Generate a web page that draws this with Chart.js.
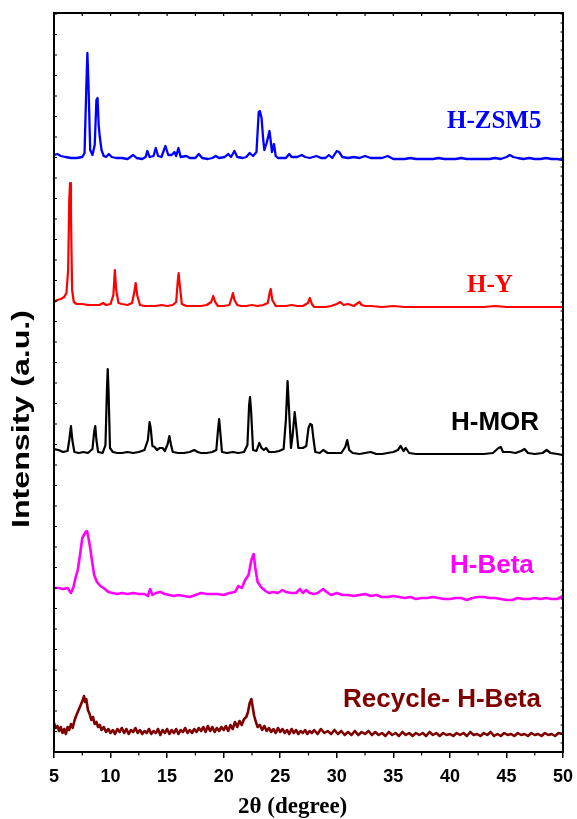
<!DOCTYPE html>
<html><head><meta charset="utf-8">
<script src="https://cdn.jsdelivr.net/npm/chart.js@4.4.1/dist/chart.umd.min.js"></script>
<style>html,body{margin:0;padding:0;background:#fff;}#wrap{width:577px;height:819px;}</style>
</head><body><div id="wrap"><canvas id="c" width="577" height="819"></canvas></div>
<script>
// 2θ tick labels
const xTicks = [5,10,15,20,25,30,35,40,45,50];
const seriesNames = ['H-ZSM5','H-Y','H-MOR','H-Beta','Recycle- H-Beta'];
// [2θ, intensity (a.u., stacked offsets included)]
const hZSM5 = [[5.0,597],[5.3,598],[5.6,596],[6.0,595],[6.5,594],[7.0,594],[7.5,595],[7.7,599],[7.85,662],[7.95,699],[8.05,667],[8.2,602],[8.4,597],[8.6,607],[8.75,652],[8.85,654],[8.95,627],[9.05,615],[9.2,602],[9.4,596],[9.6,595],[9.85,598],[10.1,595],[10.5,594],[11.0,594],[11.5,593],[12.0,597],[12.3,594],[12.8,593],[13.1,595],[13.25,601],[13.45,595],[13.8,596],[14.0,604],[14.2,596],[14.5,595],[14.85,606],[15.1,597],[15.4,597],[15.65,600],[15.8,596],[16.0,604],[16.2,595],[16.7,596],[17.0,594],[17.5,594],[17.8,598],[18.1,594],[18.6,593],[19.0,594],[19.3,596],[19.6,594],[20.1,595],[20.4,598],[20.65,595],[20.95,601],[21.2,595],[21.7,594],[22.0,595],[22.3,599],[22.6,596],[22.9,600],[23.1,640],[23.2,641],[23.35,634],[23.5,612],[23.6,602],[23.8,609],[24.05,621],[24.15,612],[24.27,600],[24.45,608],[24.6,596],[24.8,594],[25.2,594],[25.5,594],[25.8,598],[26.0,595],[26.5,595],[26.9,597],[27.2,595],[27.6,594],[28.2,596],[28.6,594],[29.0,594],[29.3,597],[29.6,594],[30.0,601],[30.2,600],[30.5,595],[31.0,594],[31.5,595],[32.0,594],[32.5,596],[33.0,594],[33.5,594],[34.0,594],[34.5,596],[35.0,593],[35.5,593],[36.0,593],[36.5,594],[37.0,593],[37.5,593],[38.0,593],[38.5,593],[39.0,594],[39.5,593],[40.0,593],[40.5,593],[41.0,594],[41.5,593],[42.0,593],[42.5,593],[43.0,593],[43.5,593],[44.0,594],[44.5,593],[45.0,595],[45.3,597],[45.6,595],[46.0,594],[46.5,593],[47.0,594],[47.5,593],[48.0,593],[48.5,594],[49.0,593],[49.5,593],[50.0,592]];
const hY = [[5.0,450],[5.3,452],[5.6,453],[5.9,455],[6.1,459],[6.25,482],[6.35,552],[6.42,569],[6.5,537],[6.6,462],[6.75,450],[7.0,448],[7.5,448],[8.0,447],[8.5,447],[9.0,447],[9.35,449],[9.6,447],[10.0,448],[10.25,457],[10.38,482],[10.5,462],[10.7,449],[11.0,448],[11.5,447],[11.9,449],[12.1,460],[12.22,469],[12.35,457],[12.6,447],[13.0,446],[13.5,446],[14.0,446],[14.5,447],[15.0,446],[15.5,447],[15.8,450],[15.95,472],[16.02,479],[16.12,467],[16.3,448],[16.7,446],[17.0,446],[17.5,446],[18.0,446],[18.5,447],[18.9,450],[19.08,456],[19.25,450],[19.5,446],[20.0,446],[20.5,447],[20.7,454],[20.82,459],[20.95,452],[21.2,447],[21.5,446],[22.0,446],[22.5,447],[23.0,446],[23.5,447],[23.9,449],[24.08,460],[24.16,463],[24.3,452],[24.6,446],[25.0,446],[25.5,446],[26.0,447],[26.5,446],[27.0,446],[27.45,449],[27.62,454],[27.8,448],[28.0,445],[28.5,445],[29.0,445],[29.5,446],[30.0,448],[30.3,450],[30.6,447],[31.0,448],[31.5,446],[32.0,450],[32.2,447],[32.5,446],[33.0,446],[34.0,445],[35.0,446],[36.0,445],[37.0,445],[38.0,445],[39.0,445],[40.0,445],[41.0,445],[42.0,445],[43.0,445],[44.0,446],[45.0,445],[46.0,445],[47.0,445],[48.0,445],[49.0,445],[50.0,445]];
const hMOR = [[5.0,303],[5.4,302],[5.8,300],[6.2,301],[6.35,312],[6.5,326],[6.62,312],[6.8,300],[7.2,299],[7.6,300],[8.0,299],[8.4,303],[8.55,320],[8.65,326],[8.75,312],[8.9,300],[9.3,299],[9.55,307],[9.68,362],[9.75,383],[9.82,362],[9.95,304],[10.2,300],[10.6,299],[11.0,299],[11.5,300],[12.0,299],[12.5,300],[13.0,302],[13.3,312],[13.45,330],[13.55,324],[13.7,306],[13.9,305],[14.1,302],[14.35,304],[14.6,304],[14.8,301],[15.05,308],[15.2,316],[15.35,307],[15.5,300],[16.0,299],[16.5,299],[17.0,300],[17.4,302],[17.7,300],[18.0,299],[18.5,299],[19.0,300],[19.35,302],[19.5,322],[19.6,333],[19.7,320],[19.85,300],[20.3,299],[20.8,300],[21.3,299],[21.8,300],[22.1,307],[22.25,347],[22.33,355],[22.42,342],[22.6,302],[22.9,301],[23.15,309],[23.35,304],[23.55,302],[23.75,304],[24.0,300],[24.5,300],[24.9,301],[25.3,303],[25.5,332],[25.65,371],[25.78,342],[25.95,304],[26.1,317],[26.28,340],[26.4,327],[26.6,304],[27.0,304],[27.3,306],[27.5,324],[27.65,328],[27.8,327],[27.95,312],[28.1,300],[28.5,299],[28.8,302],[29.2,299],[29.8,299],[30.4,299],[30.75,305],[30.92,312],[31.1,302],[31.4,299],[32.0,298],[32.5,299],[33.0,300],[33.5,298],[34.0,298],[34.5,299],[35.0,300],[35.4,302],[35.65,306],[35.9,301],[36.1,304],[36.4,299],[37.0,298],[38.0,298],[39.0,298],[40.0,298],[41.0,298],[42.0,298],[43.0,298],[43.8,299],[44.3,304],[44.5,305],[44.7,300],[45.3,300],[45.8,299],[46.3,301],[46.6,303],[46.9,299],[47.5,298],[48.2,299],[48.55,302],[48.9,299],[49.5,298],[50.0,297]];
const hBeta = [[5.0,164],[5.4,164],[5.8,163],[6.2,164],[6.5,159],[6.7,164],[6.9,174],[7.1,182],[7.3,197],[7.5,214],[7.65,217],[7.8,220],[7.92,221],[8.05,214],[8.2,204],[8.35,192],[8.55,177],[8.8,170],[9.1,166],[9.5,163],[9.8,160],[10.2,159],[10.6,158],[11.0,159],[11.5,158],[12.0,159],[12.5,158],[13.0,158],[13.3,156],[13.5,163],[13.7,157],[14.0,159],[14.4,160],[14.8,158],[15.2,157],[15.6,156],[16.0,157],[16.5,156],[17.0,155],[17.5,157],[18.0,159],[18.5,158],[19.0,158],[19.5,158],[20.0,157],[20.5,159],[21.0,160],[21.3,166],[21.6,164],[21.9,172],[22.2,177],[22.45,192],[22.65,198],[22.8,184],[23.0,170],[23.3,165],[23.7,161],[24.0,159],[24.4,160],[24.8,159],[25.2,162],[25.5,160],[26.0,159],[26.4,159],[26.75,163],[27.0,159],[27.3,162],[27.6,159],[28.0,158],[28.3,159],[28.8,163],[29.1,160],[29.5,157],[30.0,159],[30.5,157],[31.0,157],[31.5,156],[32.0,157],[32.5,158],[33.0,156],[33.5,157],[34.0,155],[34.5,155],[35.0,156],[35.5,155],[36.0,154],[36.5,155],[37.0,153],[37.5,154],[38.0,154],[38.5,155],[39.0,154],[39.5,153],[40.0,153],[40.5,154],[41.0,154],[41.5,152],[42.0,154],[42.5,155],[43.0,155],[43.5,154],[44.0,154],[44.5,153],[45.0,152],[45.5,152],[46.0,154],[46.5,153],[47.0,153],[47.5,154],[48.0,153],[48.5,154],[49.0,153],[49.5,153],[50.0,156]];
const recycleHBeta = [[5.0,29],[5.15,24],[5.3,26],[5.45,21],[5.6,25],[5.75,19],[5.9,23],[6.05,18],[6.2,25],[6.35,22],[6.5,28],[6.65,24],[6.8,31],[6.95,36],[7.1,40],[7.25,44],[7.4,48],[7.55,52],[7.65,56],[7.75,50],[7.85,53],[8.0,42],[8.15,38],[8.3,32],[8.45,35],[8.6,28],[8.75,30],[8.9,25],[9.05,27],[9.2,22],[9.4,25],[9.6,20],[9.8,23],[10.0,19],[10.2,22],[10.4,18],[10.6,23],[10.8,20],[11.0,24],[11.2,19],[11.4,23],[11.6,18],[11.8,22],[12.0,20],[12.2,24],[12.4,19],[12.6,22],[12.8,18],[13.0,21],[13.2,19],[13.4,23],[13.6,18],[13.8,21],[14.0,19],[14.2,23],[14.4,17],[14.6,22],[14.8,19],[15.0,23],[15.2,18],[15.4,22],[15.6,19],[15.8,23],[16.0,18],[16.2,22],[16.4,20],[16.6,24],[16.8,19],[17.0,22],[17.2,19],[17.4,23],[17.6,20],[17.8,24],[18.0,21],[18.2,25],[18.4,20],[18.6,26],[18.8,21],[19.0,25],[19.2,20],[19.4,24],[19.6,21],[19.8,25],[20.0,22],[20.2,26],[20.4,21],[20.6,27],[20.8,23],[21.0,30],[21.2,25],[21.4,31],[21.6,27],[21.8,33],[22.0,35],[22.15,40],[22.3,49],[22.45,53],[22.55,46],[22.7,36],[22.85,30],[23.0,25],[23.2,27],[23.4,22],[23.6,26],[23.8,21],[24.0,24],[24.2,20],[24.4,23],[24.6,19],[24.8,24],[25.0,20],[25.2,23],[25.4,19],[25.6,22],[25.8,18],[26.0,23],[26.2,19],[26.4,22],[26.6,18],[26.8,21],[27.0,19],[27.2,22],[27.4,18],[27.6,21],[27.8,19],[28.0,22],[28.3,18],[28.6,23],[28.9,19],[29.2,21],[29.5,18],[29.8,22],[30.1,18],[30.4,21],[30.7,17],[31.0,20],[31.3,17],[31.6,21],[31.9,17],[32.2,20],[32.5,18],[32.8,21],[33.1,17],[33.4,20],[33.7,17],[34.0,19],[34.3,16],[34.6,20],[34.9,17],[35.2,19],[35.5,16],[35.8,20],[36.1,17],[36.4,19],[36.7,16],[37.0,19],[37.3,17],[37.6,19],[37.9,16],[38.2,20],[38.5,17],[38.8,19],[39.1,16],[39.4,19],[39.7,17],[40.0,18],[40.3,16],[40.6,19],[40.9,17],[41.2,19],[41.5,16],[41.8,20],[42.1,17],[42.4,18],[42.7,16],[43.0,19],[43.3,17],[43.6,20],[43.9,16],[44.2,18],[44.5,16],[44.8,19],[45.1,17],[45.4,18],[45.7,16],[46.0,19],[46.3,17],[46.6,18],[46.9,16],[47.2,19],[47.5,17],[47.8,18],[48.1,16],[48.4,19],[48.7,17],[49.0,18],[49.3,16],[49.6,19],[50.0,18]];

const seriesData = [hZSM5, hY, hMOR, hBeta, recycleHBeta];
const seriesColors = ['#0000ff','#ff0000','#000000','#ff00ff','#800000'];
const seriesWidths = [2.3,2.2,2.2,2.6,2.6];

const labelStyles = [
  {font:'bold 25px "Liberation Serif", "Times New Roman", serif', x:447, y:128},
  {font:'bold 25px "Liberation Serif", "Times New Roman", serif', x:467, y:291.5},
  {font:'bold 26px "Liberation Sans", Arial, sans-serif', x:451, y:430},
  {font:'bold 26px "Liberation Sans", Arial, sans-serif', x:450, y:572.5},
  {font:'bold 26px "Liberation Sans", Arial, sans-serif', x:343, y:707}
];

const decor = {
  id:'decor',
  afterDraw(chart){
    const {ctx, chartArea:a, scales:{x, y}} = chart;
    ctx.save();
    ctx.strokeStyle = '#000';
    ctx.lineWidth = 2;
    ctx.strokeRect(a.left, a.top, a.right - a.left, a.bottom - a.top);
    ctx.lineWidth = 1.2;
    ctx.beginPath();
    for (let v = 5; v <= 50.001; v += 2.5) {
      const px = x.getPixelForValue(v);
      if (Math.abs(v % 5) > 0.01) { ctx.moveTo(px, a.bottom); ctx.lineTo(px, a.bottom + 3.5); }
      ctx.moveTo(px, a.top); ctx.lineTo(px, a.top + 3);
    }
    for (let v = 0; v <= y.max; v += 20.5) {
      const py = y.getPixelForValue(v);
      ctx.moveTo(a.left, py); ctx.lineTo(a.left + 3, py);
    }
    for (let v = 0; v <= y.max; v += 9) {
      const py = y.getPixelForValue(v);
      ctx.moveTo(a.right, py); ctx.lineTo(a.right - 2.5, py);
    }
    ctx.stroke();
    // series labels
    ctx.textAlign = 'left';
    ctx.textBaseline = 'alphabetic';
    seriesNames.forEach((n, i) => {
      ctx.font = labelStyles[i].font;
      ctx.fillStyle = seriesColors[i];
      ctx.fillText(n, labelStyles[i].x, labelStyles[i].y);
    });
    // x title
    ctx.fillStyle = '#000';
    ctx.font = 'bold 23px "Liberation Serif", "Times New Roman", serif';
    ctx.fillText('2θ (degree)', 238, 813);
    // y title (stretched along its length as in the original)
    ctx.translate(22, 419);
    ctx.rotate(-Math.PI / 2);
    ctx.scale(1.34, 1);
    ctx.font = 'bold 24px "Liberation Sans", Arial, sans-serif';
    ctx.textAlign = 'center';
    ctx.textBaseline = 'middle';
    ctx.fillText('Intensity (a.u.)', 0, 0);
    ctx.restore();
  }
};

new Chart(document.getElementById('c'), {
  type: 'line',
  data: {
    datasets: seriesData.map((d, i) => ({
      label: seriesNames[i],
      data: d.map(p => ({x: p[0], y: p[1]})),
      borderColor: seriesColors[i],
      borderWidth: seriesWidths[i],
      pointRadius: 0,
      tension: 0,
      fill: false,
      borderJoinStyle: 'round'
    }))
  },
  options: {
    responsive: false,
    animation: false,
    devicePixelRatio: 1,
    layout: {padding: {top: 13, right: 14, left: 0, bottom: 0}},
    plugins: {legend: {display: false}, tooltip: {enabled: false}},
    scales: {
      x: {
        type: 'linear', min: 5, max: 50, position: 'bottom',
        afterBuildTicks: s => { s.ticks = xTicks.map(v => ({value: v})); },
        ticks: {color: '#000', padding: 8, maxRotation: 0, autoSkip: false,
          font: {family: '"Liberation Sans", Arial, sans-serif', weight: 'bold', size: 18}},
        grid: {display: true, drawOnChartArea: false, drawTicks: true, tickLength: 6, color: '#000', lineWidth: 1.5},
        border: {display: false},
        afterFit: s => { s.height = 67; s.paddingLeft = 0; s.paddingRight = 0; }
      },
      y: {
        min: 0, max: 739,
        ticks: {display: false},
        grid: {display: false},
        border: {display: false},
        afterFit: s => { s.width = 54; s.paddingTop = 0; s.paddingBottom = 0; }
      }
    }
  },
  plugins: [decor]
});
</script>
</body></html>
